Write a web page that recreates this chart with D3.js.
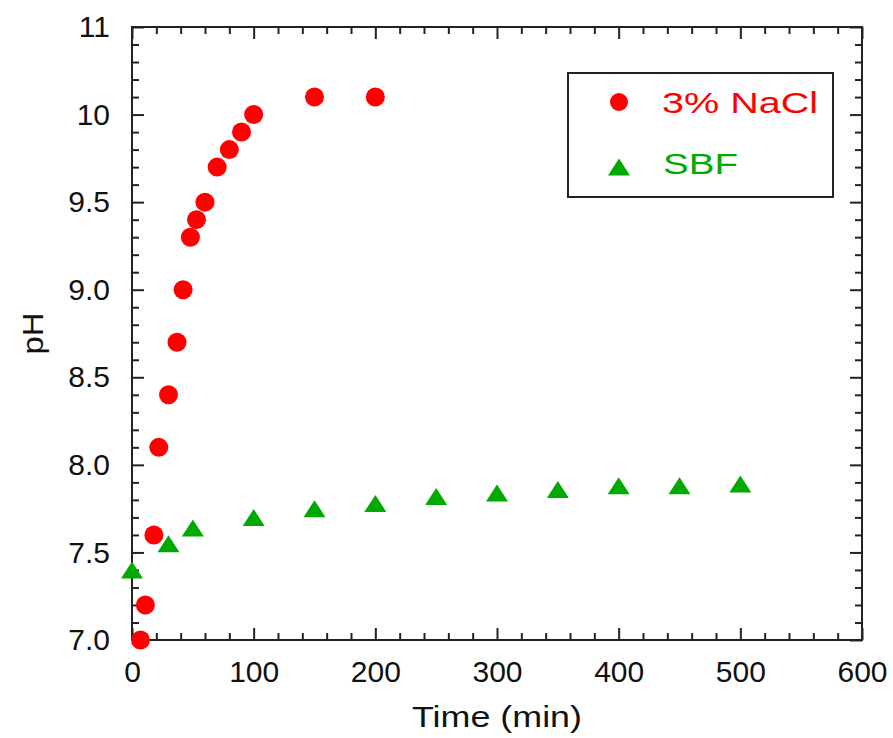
<!DOCTYPE html>
<html>
<head>
<meta charset="utf-8">
<script src="https://cdn.jsdelivr.net/npm/d3@7"></script>
<style>
  body { margin: 0; background: #fff; }
  text { font-family: "Liberation Sans", Arial, sans-serif; }
</style>
</head>
<body>
<div id="chart"></div>
<script>
// 3% NaCl series (time in min, pH)
const naclTime = [7, 11, 18, 22, 30, 37, 42, 48, 53, 60, 70, 80, 90, 100, 150, 200];
const naclPH   = [7.0, 7.2, 7.6, 8.1, 8.4, 8.7, 9.0, 9.3, 9.4, 9.5, 9.7, 9.8, 9.9, 10.0, 10.1, 10.1];

// SBF series
const sbfTime = [0, 30, 50, 100, 150, 200, 250, 300, 350, 400, 450, 500];
const sbfPH   = [7.4, 7.55, 7.64, 7.70, 7.75, 7.78, 7.82, 7.84, 7.86, 7.88, 7.88, 7.89];

// axis ticks (the top label of the original reads "11")
const xTicks = [0, 100, 200, 300, 400, 500, 600];
const yTicks = [7.0, 7.5, 8.0, 8.5, 9.0, 9.5, 10.0, 10.5];
const yTickLabels = ["7.0", "7.5", "8.0", "8.5", "9.0", "9.5", "10", "11"];

const seriesNames = ["3% NaCl", "SBF"];

const W = 893, H = 738;
const margin = { top: 27, right: 31, bottom: 98, left: 132 };
const width = W - margin.left - margin.right;
const height = H - margin.top - margin.bottom;

const svg = d3.select("#chart").append("svg")
    .attr("width", W)
    .attr("height", H);

const g = svg.append("g")
    .attr("transform", `translate(${margin.left},${margin.top})`);

const x = d3.scaleLinear().domain([0, 600]).range([0, width]);
const y = d3.scaleLinear().domain([7, 10.5]).range([height, 0]);

const xMinor = d3.range(0, 601, 20).filter(v => v % 100 !== 0);
const yMinor = d3.range(70, 106, 1).map(v => v / 10).filter(v => Math.round(v * 10) % 5 !== 0);

const axisColor = "#222";
const majorLen = 12, minorLen = 7;

function styleAxis(sel) {
    sel.select(".domain").remove();
    sel.selectAll(".tick line").attr("stroke", axisColor).attr("stroke-width", 2);
}

// bottom
g.append("g").attr("transform", `translate(0,${height})`)
    .call(d3.axisBottom(x).tickValues(xMinor).tickSize(-minorLen).tickFormat(""))
    .call(styleAxis);
g.append("g").attr("transform", `translate(0,${height})`)
    .call(d3.axisBottom(x).tickValues(xTicks).tickSize(-majorLen).tickPadding(21).tickFormat(d3.format("d")))
    .call(styleAxis)
    .selectAll("text")
    .attr("fill", "#111")
    .style("font-size", "30px");

// top
g.append("g")
    .call(d3.axisTop(x).tickValues(xMinor).tickSize(-minorLen).tickFormat(""))
    .call(styleAxis);
g.append("g")
    .call(d3.axisTop(x).tickValues(xTicks).tickSize(-majorLen).tickFormat(""))
    .call(styleAxis);

// left
g.append("g")
    .call(d3.axisLeft(y).tickValues(yMinor).tickSize(-minorLen).tickFormat(""))
    .call(styleAxis);
g.append("g")
    .call(d3.axisLeft(y).tickValues(yTicks).tickSize(-majorLen).tickPadding(22)
        .tickFormat((d, i) => yTickLabels[i]))
    .call(styleAxis)
    .selectAll("text")
    .attr("fill", "#111")
    .style("font-size", "30px");

// right
g.append("g").attr("transform", `translate(${width},0)`)
    .call(d3.axisRight(y).tickValues(yMinor).tickSize(-minorLen).tickFormat(""))
    .call(styleAxis);
g.append("g").attr("transform", `translate(${width},0)`)
    .call(d3.axisRight(y).tickValues(yTicks).tickSize(-majorLen).tickFormat(""))
    .call(styleAxis);

// frame
g.append("rect")
    .attr("width", width)
    .attr("height", height)
    .attr("fill", "none")
    .attr("stroke", axisColor)
    .attr("stroke-width", 2);

// axis titles
svg.append("text")
    .attr("x", margin.left + width / 2)
    .attr("y", 727)
    .attr("text-anchor", "middle")
    .attr("fill", "#111")
    .attr("textLength", 170)
    .attr("lengthAdjust", "spacingAndGlyphs")
    .style("font-size", "30px")
    .text("Time (min)");

svg.append("text")
    .attr("transform", "rotate(-90)")
    .attr("x", -(margin.top + height / 2))
    .attr("y", 43)
    .attr("text-anchor", "middle")
    .attr("fill", "#111")
    .attr("textLength", 42)
    .attr("lengthAdjust", "spacingAndGlyphs")
    .style("font-size", "30px")
    .text("pH");

const red = "#ff0000", green = "#00aa00";

// flattened triangle marker, centred on its box
function triangle(w, h) {
    const p = d3.path();
    p.moveTo(0, -h / 2);
    p.lineTo(w / 2, h / 2);
    p.lineTo(-w / 2, h / 2);
    p.closePath();
    return p.toString();
}
const triPath = triangle(22, 17);

// NaCl points
g.selectAll(".nacl")
    .data(naclTime.map((t, i) => ({ t, v: naclPH[i] })))
    .join("circle")
    .attr("class", "nacl")
    .attr("cx", d => x(d.t))
    .attr("cy", d => y(d.v))
    .attr("r", 9.5)
    .attr("fill", red);

// SBF points
g.selectAll(".sbf")
    .data(sbfTime.map((t, i) => ({ t, v: sbfPH[i] })))
    .join("path")
    .attr("class", "sbf")
    .attr("d", triPath)
    .attr("transform", d => `translate(${x(d.t)},${y(d.v)})`)
    .attr("fill", green);

// legend
const legend = svg.append("g").attr("transform", "translate(568,73)");
legend.append("rect")
    .attr("width", 265)
    .attr("height", 124)
    .attr("fill", "#fff")
    .attr("stroke", axisColor)
    .attr("stroke-width", 2);
legend.append("circle")
    .attr("cx", 51).attr("cy", 29).attr("r", 9).attr("fill", red);
legend.append("path")
    .attr("d", triangle(22, 17))
    .attr("transform", "translate(51,94)")
    .attr("fill", green);
legend.append("text")
    .attr("x", 94).attr("y", 40)
    .attr("fill", red)
    .attr("textLength", 156)
    .attr("lengthAdjust", "spacingAndGlyphs")
    .style("font-size", "30px")
    .text(seriesNames[0]);
legend.append("text")
    .attr("x", 95).attr("y", 101)
    .attr("fill", green)
    .attr("textLength", 75)
    .attr("lengthAdjust", "spacingAndGlyphs")
    .style("font-size", "30px")
    .text(seriesNames[1]);
</script>
</body>
</html>
